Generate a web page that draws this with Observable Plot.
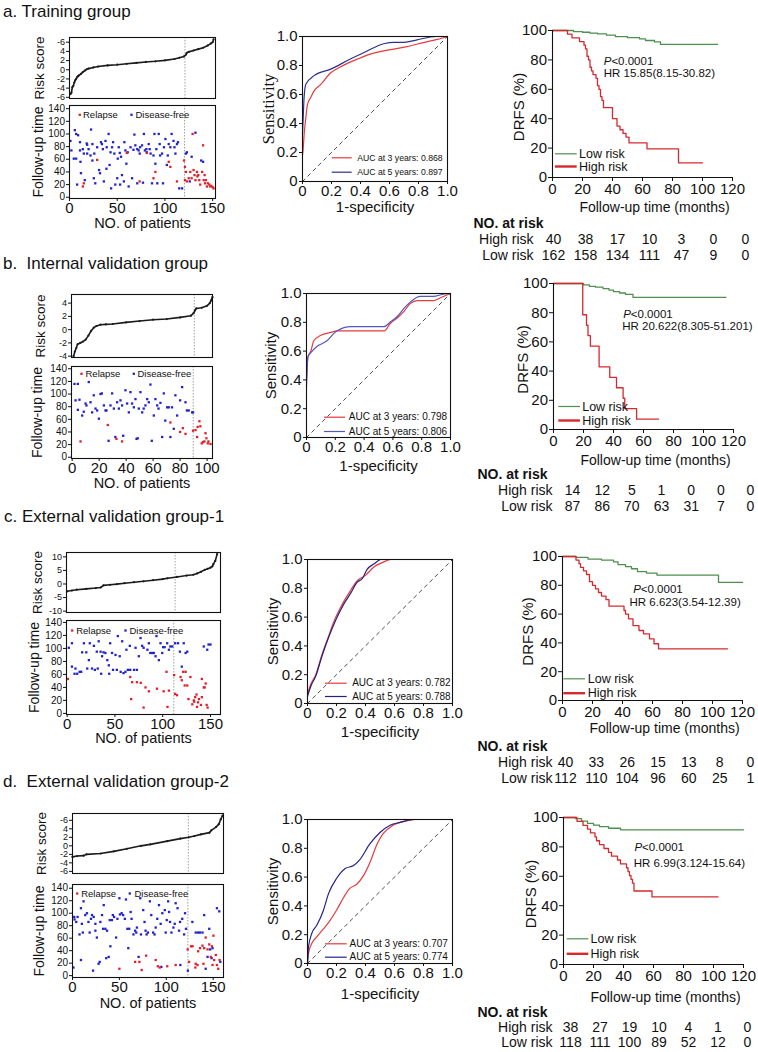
<!DOCTYPE html>
<html><head><meta charset="utf-8">
<script src="https://cdn.jsdelivr.net/npm/d3@7"></script>
<script src="https://cdn.jsdelivr.net/npm/@observablehq/plot@0.6"></script>
<style>
body{margin:0;background:#fff;}
#root{position:relative;width:758px;height:1052px;overflow:hidden;font-family:"Liberation Sans",Arial,Helvetica,sans-serif;color:#111;background:#fff;}
.title{position:absolute;font-size:17px;white-space:pre;line-height:1;}
</style></head><body><div id="root"></div>
<script>
// ---------------- DATA ----------------
const titles = ["a. Training group", "b.  Internal validation group", "c. External validation group-1", "d.  External validation group-2"];

// risk score curves (patient index, risk score)
const riskScoreA = [[1,-5.3],[2,-5.0],[3,-3.8],[4,-3.5],[5,-2.8],[6,-2.3],[7,-2.0],[8,-1.6],[9,-1.4],[10,-1.2],[12,-0.9],[14,-0.5],[16,-0.2],[18,0.1],[20,0.25],[25,0.5],[30,0.7],[40,0.95],[50,1.1],[60,1.3],[70,1.5],[80,1.7],[90,1.85],[100,2.05],[110,2.35],[115,2.6],[120,2.9],[122,3.3],[123,3.7],[125,3.9],[130,4.2],[135,4.5],[140,4.8],[145,5.3],[148,5.7],[150,6.0],[151,6.6]];
const riskScoreB = [[1,-4.0],[2,-3.3],[3,-2.8],[4,-2.2],[6,-2.0],[8,-1.8],[10,-1.5],[12,-0.9],[14,-0.2],[16,0.3],[18,0.55],[21,0.75],[25,0.8],[30,0.85],[40,1.1],[50,1.3],[60,1.5],[70,1.6],[80,1.85],[88,2.1],[90,2.5],[91,2.9],[92,3.2],[96,3.3],[100,3.6],[102,4.0],[103,4.4],[104,4.9]];
const riskScoreC = [[0,-2.7],[5,-2.4],[10,-2.1],[20,-1.8],[30,-1.5],[35,-1.3],[38,-0.5],[45,-0.3],[52,-0.05],[60,0.3],[70,0.67],[80,1.0],[90,1.4],[100,1.8],[105,2.1],[115,2.6],[125,3.1],[132,3.4],[136,3.9],[140,4.5],[144,5.2],[147,5.6],[150,6.0],[152,6.5],[153,7.3],[155,8.5],[157,11]];
const riskScoreD = [[0,-2.6],[5,-2.4],[12,-2.3],[15,-2.0],[30,-1.8],[44,-1.3],[58,-0.7],[73,0],[83,0.35],[101,1.1],[115,1.7],[124,2.0],[130,2.3],[137,2.7],[146,3.1],[148,3.65],[153,4.4],[156,5.1],[158,6.2],[160,7.1]];

const riskTicksA = [6,4,2,0,-2,-4,-6], riskTickLabelsA = ["-6","4","2","0","-2","-4","-6"];
const riskTicksB = [4,2,0,-2,-4], riskTickLabelsB = ["4","2","0","-2","-4"];
const riskTicksC = [10,5,0,-5,-10], riskTickLabelsC = ["10","5","0","-5","-10"];
const riskTicksD = [6,4,2,0,-2,-4,-6], riskTickLabelsD = ["-6","4","2","0","-2","-4","-6"];
const cutoffA = 121, cutoffB = 90.5, cutoffC = 113, cutoffD = 123.5;

const followTicks = [0,20,40,60,80,100,120,140];
const patientTicksA = [0,50,100,150], patientTicksB = [0,20,40,60,80,100], patientTicksC = [0,50,100,150], patientTicksD = [0,50,100,150];

// follow-up time scatter (patient index, months)
const relapseA = [[14,17],[15,22],[29,59],[60,70],[73.5,25],[81,70],[88,30],[90,40],[104,56],[105.7,48],[112.6,25],[120,58],[121,48],[121,27],[122,40],[123,25],[125,30],[126.6,40],[128,30],[129,100],[130,43],[131,35],[132,27],[133.6,40],[134,33],[135,35],[136,27],[137,20],[139,40],[140,82],[140.6,27],[141.6,35],[142,22],[143,27],[144,17],[145,22],[146.5,20],[147.5,17],[148.6,18],[150,16],[151,14]];
const diseaseFreeA = [[1,89],[2,74],[4.5,61],[5.6,106],[7,100],[7,61],[8,20],[9,98],[11,87],[11,74],[11.5,56],[12,38],[14,76],[15,69],[16,27],[18,85],[18.5,83],[18.5,69],[20,76],[22,66],[22.6,107],[24,84],[24,58],[25.5,30],[26,69],[27,22],[29,79],[31,43],[32,38],[33,87],[34,84],[35,76],[36,25],[37.7,89],[38.7,45],[39,79],[41,100],[42,51],[43,71],[43.6,14],[44.6,79],[45.7,87],[47,69],[48,20],[50,30],[50.6,61],[51.6,79],[52.7,70],[53,20],[54,64],[55,35],[57,25],[57.5,87],[58.6,74],[59.6,53],[61,71],[62,17],[64,79],[65.6,30],[67,75],[68,99],[69,82],[71,76],[71,22],[72.5,74],[73.6,69],[74,79],[76,82],[77,23],[78,100],[79,74],[80.6,76],[81,71],[83,84],[84,76],[85,69],[86.5,22],[88,66],[89,100],[90,53],[91,76],[92,22],[93.5,100],[94.5,84],[95,66],[97,69],[98,22],[99,79],[100.5,92],[102,51],[103,66],[104,84],[105.7,79],[107,100],[109,89],[110,79],[111,69],[112.6,84],[113.7,87],[115,14],[118,14],[122,69],[123,71],[126,25],[128,64],[132,102],[138,58],[140,56]];
const relapseB = [[6.2,25],[26.4,51],[32.8,29],[37,25],[72.8,55],[80,40],[82,46],[84,37],[89.6,42],[91.4,43],[92.6,32],[93,48],[94.3,57],[95,49],[96,22],[97,24],[98,25],[98.8,38],[99.5,30],[100.5,22],[101,25],[102.5,21]];
const diseaseFreeB = [[1.7,116],[2.5,90],[4.2,116],[4.2,75],[5.4,91],[7.4,66],[8.6,72],[9.9,85],[10.6,82],[12.3,119],[13.6,87],[14.8,71],[16,98],[17.3,77],[18.5,74],[19.8,61],[21,100],[22,101],[23.5,82],[24.7,74],[25.4,74],[27,26],[28.4,82],[29.6,101],[30.9,77],[32,32],[33.3,87],[34.6,77],[35.8,90],[37,82],[37.8,34],[39.5,106],[40.7,85],[42,71],[43.2,103],[44.4,85],[45.7,79],[46.9,92],[47.7,29],[48.6,30],[49.4,77],[50.6,103],[51.9,71],[53,77],[54.3,82],[55.6,92],[56.8,87],[58,115],[59,26],[60.5,66],[61.7,92],[63,82],[64,77],[65.4,86],[66.7,32],[67.9,101],[69,58],[70.4,79],[71.6,79],[72.8,32],[74,79],[75.3,45],[76.5,98],[77.8,66],[80,90],[81.5,111],[84,87],[85,74],[86.4,74],[88.9,71],[89.6,71]];
const relapseC = [[0.7,53],[66,56],[67,22],[68,48],[73,48],[77,47],[80,9],[82,40],[85.5,34],[94,38],[101,34],[104,64],[105,10],[106.5,35],[112,59],[113,30],[115,28],[118.7,56],[120,51],[121.5,64],[123,43],[124,64],[125.7,43],[127,22],[129,56],[131,14],[132.6,20],[133,18],[134,25],[135.4,29],[136,10],[137,17],[138,22],[140,13],[141,25],[141,53],[143,40],[144,40],[145,46],[146,13],[147,9]];
const diseaseFreeC = [[1.7,101],[5,72],[5,108],[7.7,61],[8.7,69],[10.5,61],[13,64],[14.7,64],[15.7,94],[17.5,108],[20,94],[21,69],[22.7,82],[23.7,108],[26,69],[28,104],[29,67],[31,95],[32,69],[33,111],[35,95],[35.6,61],[36.6,88],[38,94],[40,93],[42,82],[43.6,74],[44,61],[45,108],[47,93],[48,67],[50.6,90],[52,67],[53,119],[55,88],[56,64],[57.6,111],[59,62],[61,64],[62,98],[63.5,67],[65.6,104],[66,67],[70,67],[71.6,101],[73,67],[75,88],[76.8,116],[78.5,104],[80,101],[84,98],[85.5,108],[87,93],[89,93],[90.7,93],[92.5,88],[93.5,119],[96,82],[97.7,108],[99.5,93],[100.5,102],[102,102],[104.7,108],[106.5,98],[108,103],[110,103],[113,108],[116,108],[118,95],[120,72],[122,108],[124,93],[125.7,95],[143,103],[146.6,98],[148,106],[150,106]];
const relapseD = [[50,11],[66.8,22],[71.3,22],[73.8,9],[78.5,32],[88.7,25],[91,15],[93,13],[101,15],[110,17],[122.8,42],[124.3,22],[126.4,47],[128,47],[131,13],[131.4,19],[133.3,17],[134,39],[136,44],[138.6,48],[139.6,19],[140.4,44],[142,61],[144,42],[145.8,50],[147.5,30],[148.6,47],[149.3,17],[150.3,64],[151,25],[152.8,33],[154,17],[155.4,11],[156.8,25]];
const diseaseFreeD = [[1,13],[1.8,94],[2.2,90],[4,86],[5.4,94],[7.5,66],[9,108],[9,25],[10,83],[11,69],[11.8,119],[13.6,97],[15.4,100],[17,86],[18.3,69],[19.7,91],[20.8,97],[21.9,8],[22.6,94],[24.4,72],[24.4,83],[26,61],[27.8,19],[29,22],[29.7,86],[31.5,97],[32.6,75],[33.3,113],[35,75],[36,28],[36.8,72],[38.6,30],[39.7,89],[40.4,47],[42,89],[43,97],[44.4,94],[46.5,61],[47.9,91],[50,124],[50.6,98],[52.4,100],[54,97],[55.8,91],[57,122],[58.5,75],[59.5,44],[60.5,75],[62,102],[63,91],[65,66],[66.8,72],[68,69],[68.7,77],[70.5,30],[72.3,124],[73,66],[75.4,105],[76.8,86],[77.9,72],[79,66],[80.4,69],[82.5,119],[84,97],[86,69],[87.5,66],[88.7,77],[90.4,91],[92.2,113],[94,83],[94.7,14],[95.8,100],[98.4,105],[99.4,69],[100.5,89],[102,119],[103,102],[104,86],[105.5,69],[107.6,77],[109,83],[110,116],[112,108],[113.6,72],[114.7,86],[115,17],[117,91],[119,66],[120,100],[121,75],[123,8],[127.8,86],[131.4,69],[133.9,69],[136,69],[138.6,69],[140.4,97],[142,11],[144,30],[145.8,75],[146.8,42],[148.3,28],[149.3,44],[154,108],[156.5,103],[157.6,22]];

// ROC curves (1-specificity, sensitivity)
const rocTicks = [0,0.2,0.4,0.6,0.8,1.0];
const rocA3 = [[0,0.18],[0.005,0.23],[0.011,0.32],[0.023,0.44],[0.034,0.53],[0.057,0.58],[0.08,0.625],[0.126,0.67],[0.195,0.75],[0.26,0.79],[0.38,0.845],[0.49,0.885],[0.61,0.91],[0.72,0.93],[0.84,0.96],[0.93,0.98],[1,1]];
const rocA5 = [[0,0.33],[0.006,0.47],[0.011,0.58],[0.023,0.67],[0.08,0.73],[0.195,0.775],[0.33,0.845],[0.425,0.89],[0.56,0.95],[0.63,0.96],[0.7,0.96],[0.79,0.977],[0.92,1.0],[1,1]];
const rocB3 = [[0,0.40],[0.01,0.56],[0.03,0.60],[0.05,0.67],[0.1,0.71],[0.17,0.73],[0.21,0.74],[0.31,0.74],[0.54,0.74],[0.58,0.79],[0.63,0.83],[0.68,0.88],[0.72,0.93],[0.77,0.95],[0.88,0.95],[0.93,0.97],[1,1]];
const rocB5 = [[0,0.35],[0.01,0.56],[0.03,0.59],[0.07,0.63],[0.14,0.67],[0.21,0.74],[0.31,0.77],[0.42,0.77],[0.54,0.77],[0.58,0.80],[0.63,0.84],[0.68,0.90],[0.72,0.94],[0.79,0.98],[0.88,0.98],[0.95,0.995],[1,1]];
const rocC3 = [[0,0.065],[0.023,0.135],[0.057,0.2],[0.1,0.34],[0.15,0.48],[0.18,0.565],[0.24,0.69],[0.3,0.79],[0.34,0.85],[0.4,0.89],[0.46,0.95],[0.52,0.98],[0.575,1],[1,1]];
const rocC5 = [[0,0.05],[0.023,0.12],[0.057,0.19],[0.1,0.33],[0.15,0.47],[0.195,0.58],[0.25,0.69],[0.3,0.77],[0.34,0.84],[0.38,0.87],[0.41,0.93],[0.46,0.97],[0.506,1],[1,1]];
const rocD3 = [[0,0],[0.007,0.07],[0.03,0.14],[0.064,0.185],[0.11,0.24],[0.156,0.3],[0.2,0.37],[0.25,0.46],[0.29,0.52],[0.34,0.55],[0.386,0.61],[0.43,0.7],[0.48,0.83],[0.52,0.9],[0.59,0.96],[0.685,0.99],[0.75,1],[1,1]];
const rocD5 = [[0,0],[0.007,0.115],[0.03,0.21],[0.064,0.265],[0.11,0.37],[0.145,0.485],[0.2,0.59],[0.26,0.66],[0.317,0.68],[0.36,0.72],[0.43,0.83],[0.5,0.91],[0.57,0.96],[0.64,0.98],[0.73,1],[1,1]];
const aucA = ["0.868","0.897"], aucB = ["0.798","0.806"], aucC = ["0.782","0.788"], aucD = ["0.707","0.774"];

// Kaplan-Meier (months, DRFS %)
const kmTicksX = [0,20,40,60,80,100,120], kmTicksY = [0,20,40,60,80,100];
const kmLowA = [[0,100],[14,99.3],[20,98.8],[25,98.2],[30,97.7],[36,96.8],[42,95.9],[50,95.2],[58,94.3],[62,93.2],[68,92.2],[72,90.5],[110,90.5]];
const kmHighA = [[0,100],[10,97.5],[13,95],[18,92.5],[21,90],[22,87.5],[23,82.5],[24,80],[25,75],[26,72.5],[27,70],[29,67.5],[30,62.5],[31,60],[32,55],[33,52.5],[34,47.5],[40,40],[43,35],[45,32.5],[47,30],[49,27.5],[51,23.5],[63,19.5],[84,10],[100,10]];
const kmLowB = [[0,100],[20,99],[24,98],[28,97.5],[33,96.5],[37,95.5],[40,94.5],[44,93.5],[48,92.5],[53,90.5],[115,90.5]];
const kmHighB = [[0,100],[19.5,78.6],[22,71.4],[23,64.3],[24.6,57.1],[30.4,42.9],[37.5,35.7],[42,28.6],[46.4,21.4],[47.5,14.3],[55.4,7.1],[70,7.1]];
const kmLowC = [[0,100],[9,99.4],[17,98.2],[26,97.5],[34,96.3],[37,94.4],[42,93],[46,91.5],[50,89.5],[56,88.5],[63,87],[104,82],[120,82]];
const kmHighC = [[0,100],[9,97.5],[11,95],[12,92.5],[14,90],[16,87.5],[18,82.5],[20,80],[22,77.5],[24,75],[26,72.5],[29,70],[31,65.5],[40,65.5],[41,62.5],[42,60],[44,56.7],[47,52],[51,48.6],[54,46.3],[58,42.8],[61,39.4],[64,35.9],[110,35.9]];
const kmLowD = [[0,100],[8,99.3],[12,97.5],[16,96],[20,94.8],[24,93.8],[30,92.7],[38,91.6],[120,91.6]];
const kmHighD = [[0,100],[9,97.4],[13,94.7],[16,92.1],[18,89.5],[21,86.8],[22,84.2],[24,81.6],[27,78.9],[30,76.3],[32,73.7],[36,71.1],[38,68.4],[42,65.8],[43,63.2],[44,60.5],[45,57.9],[46,55.3],[47,50],[59,46],[103,46]];
const hrA = "HR 15.85(8.15-30.82)", hrB = "HR 20.622(8.305-51.201)", hrC = "HR 6.623(3.54-12.39)", hrD = "HR 6.99(3.124-15.64)";

// number at risk
const riskTimes = [0,20,40,60,80,100,120];
const atRiskHighA = [40,38,17,10,3,0,0],  atRiskLowA = [162,158,134,111,47,9,0];
const atRiskHighB = [14,12,5,1,0,0,0],    atRiskLowB = [87,86,70,63,31,7,0];
const atRiskHighC = [40,33,26,15,13,8,0], atRiskLowC = [112,110,104,96,60,25,1];
const atRiskHighD = [38,27,19,10,4,1,0],  atRiskLowD = [118,111,100,89,52,12,0];

// ---------------- STYLE / LAYOUT ----------------
const FONT = '"Liberation Sans", Arial, Helvetica, sans-serif';
const SERIF = '"Liberation Serif", "Times New Roman", serif';
const INK = "#111";
const C = {relapse:"#e3202a", free:"#2323cc", roc3:"#e63a3d", km_low:"#4f8f4f", km_high:"#d42a2e"};

const layouts = [
 { title:[3,17.5],
   risk:{x0:69,x1:215,y0:37,y1:98,xd:[0,153],yd:[-6.26,7.03]}, riskLab:39,
   scat:{x0:69,x1:215,y0:105,y1:198,xd:[0,153],yd:[-2,145]}, fuLab:38, patLabDy:25, cutScat:120.5,
   leg:{red:[79.3,114.3],redT:82.5,blue:[131,114.3],blueT:135},
   roc:{x0:302,x1:447,y0:36,y1:181,xd:[0,1],yd:[0,1]}, sensLab:268, sensSerif:true, specDy:26,
   rocLeg:{x:[331.7,351.7],y:[157.3,171.7],t:356.7,fs:8.7}, roc5:"#2b2f8f",
   km:{x0:552,x1:732,y0:30,y1:177,xd:[0,120],yd:[0,100]}, drfsLab:519, kmXDy:30.5,
   kmLeg:{x:[555,576.7],y:[153.3,166],t:578.5}, pT:[603.3,61], hrT:[603.3,72.5],
   tab:{hdr:473, labR:533, cols:[553,745], rows:[222.5,254.5]} },
 { title:[3,269.5],
   risk:{x0:71,x1:212,y0:294,y1:357,xd:[-0.5,104],yd:[-4.2,5.3]}, riskLab:40,
   scat:{x0:71,x1:212,y0:366,y1:458,xd:[-0.5,104],yd:[-2,143.6]}, fuLab:37.5, patLabDy:25, cutScat:89.7,
   leg:{red:[81,373.3],redT:85,blue:[133.3,373.3],blueT:137},
   roc:{x0:306,x1:450,y0:293,y1:437,xd:[0,1],yd:[0,1]}, sensLab:271, sensSerif:false, specDy:29,
   rocLeg:{x:[324,345],y:[416.7,431],t:348.3,fs:10}, roc5:"#5257c4",
   km:{x0:553,x1:733,y0:283,y1:429,xd:[0,120],yd:[0,100]}, drfsLab:522.5, kmXDy:31,
   kmLeg:{x:[558.3,580],y:[406,420],t:581.7}, pT:[622.7,313.7], hrT:[621.7,326],
   tab:{hdr:477, labR:552, cols:[572,750], rows:[474,506.5]} },
 { title:[4,522],
   risk:{x0:66,x1:220,y0:552,y1:612,xd:[-0.7,160.5],yd:[-10.5,11.6]}, riskLab:37,
   scat:{x0:66,x1:220,y0:620,y1:714,xd:[-0.7,160.5],yd:[-1.7,143]}, fuLab:34, patLabDy:24, cutScat:111.6,
   leg:{red:[71.7,630],redT:75.7,blue:[125,630],blueT:129},
   roc:{x0:307,x1:452,y0:559,y1:703,xd:[0,1],yd:[0,1]}, sensLab:272.5, sensSerif:false, specDy:29,
   rocLeg:{x:[325,346.7],y:[682.7,696],t:351.7,fs:10}, roc5:"#23237a",
   km:{x0:562,x1:742,y0:556,y1:700,xd:[0,120],yd:[0,100]}, drfsLab:527.5, kmXDy:28,
   kmLeg:{x:[563.3,585],y:[678.3,692.7],t:587.3}, pT:[632.7,589], hrT:[629,602],
   tab:{hdr:477, labR:552, cols:[565,750], rows:[745.5,778]} },
 { title:[3,787.5],
   risk:{x0:72,x1:223,y0:813,y1:873,xd:[0,161],yd:[-6.5,7.6]}, riskLab:41,
   scat:{x0:72,x1:223,y0:884,y1:977,xd:[0,161],yd:[-3,146]}, fuLab:39, patLabDy:26, cutScat:123,
   leg:{red:[76.7,893],redT:80.7,blue:[129.3,893],blueT:134},
   roc:{x0:307,x1:452,y0:819,y1:963,xd:[0,1],yd:[0,1]}, sensLab:272.5, sensSerif:false, specDy:31,
   rocLeg:{x:[325,346.7],y:[943.3,956.7],t:349,fs:10}, roc5:"#23238a",
   km:{x0:563,x1:743,y0:817,y1:964,xd:[0,120],yd:[0,100]}, drfsLab:531, kmXDy:33,
   kmLeg:{x:[566.7,588.3],y:[938.3,953.3],t:590}, pT:[634,847], hrT:[633.3,863],
   tab:{hdr:477, labR:552, cols:[570,747], rows:[1011.7,1042.5]} }
];

const panels = [
 {title:titles[0], risk:riskScoreA, rt:riskTicksA, rl:riskTickLabelsA, cut:cutoffA, rel:relapseA, free:diseaseFreeA, pt:patientTicksA, r3:rocA3, r5:rocA5, auc:aucA, low:kmLowA, high:kmHighA, hr:hrA, nh:atRiskHighA, nl:atRiskLowA},
 {title:titles[1], risk:riskScoreB, rt:riskTicksB, rl:riskTickLabelsB, cut:cutoffB, rel:relapseB, free:diseaseFreeB, pt:patientTicksB, r3:rocB3, r5:rocB5, auc:aucB, low:kmLowB, high:kmHighB, hr:hrB, nh:atRiskHighB, nl:atRiskLowB},
 {title:titles[2], risk:riskScoreC, rt:riskTicksC, rl:riskTickLabelsC, cut:cutoffC, rel:relapseC, free:diseaseFreeC, pt:patientTicksC, r3:rocC3, r5:rocC5, auc:aucC, low:kmLowC, high:kmHighC, hr:hrC, nh:atRiskHighC, nl:atRiskLowC},
 {title:titles[3], risk:riskScoreD, rt:riskTicksD, rl:riskTickLabelsD, cut:cutoffD, rel:relapseD, free:diseaseFreeD, pt:patientTicksD, r3:rocD3, r5:rocD5, auc:aucD, low:kmLowD, high:kmHighD, hr:hrD, nh:atRiskHighD, nl:atRiskLowD}
];

// ---------------- DRAWING ----------------
const root = document.getElementById("root");
const X = (fr, px) => fr.xd[0] + (px - fr.x0) / (fr.x1 - fr.x0) * (fr.xd[1] - fr.xd[0]);
const Y = (fr, py) => fr.yd[0] + (fr.y1 - py) / (fr.y1 - fr.y0) * (fr.yd[1] - fr.yd[0]);
const px = d => d[0], py = d => d[1];

function place(fr, o) {
  const ml = o.ml ?? 60, mr = o.mr ?? 30, mt = o.mt ?? 20, mb = o.mb ?? 50;
  const p = Plot.plot({
    width: fr.x1 - fr.x0 + ml + mr,
    height: fr.y1 - fr.y0 + mt + mb,
    marginLeft: ml, marginRight: mr, marginTop: mt, marginBottom: mb,
    x: Object.assign({domain: fr.xd}, o.x || {}),
    y: Object.assign({domain: fr.yd}, o.y || {}),
    style: {fontFamily: FONT},
    marks: o.marks
  });
  p.style.position = "absolute";
  p.style.left = (fr.x0 - ml) + "px";
  p.style.top = (fr.y0 - mt) + "px";
  p.style.background = "transparent";
  p.style.overflow = "visible";
  p.style.maxWidth = "none";
  p.style.color = INK;
  p.style.fontFamily = FONT;
  root.appendChild(p);
}

// rotated (vertical) axis title, centred on the frame's left edge
const yTitle = (text, dx, fs, extra = {}) =>
  Plot.text([text], Object.assign({frameAnchor:"left", rotate:-90, dx, fontSize:fs, textAnchor:"middle", lineAnchor:"middle", fill:INK}, extra));

function drawPanel(P, G) {
  // title
  const t = document.createElement("div");
  t.className = "title"; t.textContent = P.title;
  t.style.left = G.title[0] + "px"; t.style.top = (G.title[1] - 0.846 * 17) + "px";
  root.appendChild(t);

  // risk score
  const rm = new Map(P.rt.map((v, i) => [v, P.rl[i]]));
  place(G.risk, {x:{axis:null}, marks:[
    Plot.ruleX([P.cut], {stroke:"#888", strokeWidth:0.8, strokeDasharray:"1.5,1.5"}),
    Plot.line(P.risk, {x:px, y:py, stroke:"#1b1b1b", strokeWidth:1.6}),
    Plot.dot(P.risk, {x:px, y:py, r:1.1, fill:"#1b1b1b"}),
    Plot.frame({stroke:INK, strokeWidth:1.1}),
    Plot.axisY({ticks:P.rt, tickFormat:d => rm.get(d), tickSize:3, tickPadding:1.5, fontSize:9, label:null}),
    yTitle("Risk score", G.riskLab - G.risk.x0, 13.5)
  ]});

  // follow-up scatter
  const s = G.scat;
  place(s, {marks:[
    Plot.ruleX([G.cutScat], {stroke:"#888", strokeWidth:0.8, strokeDasharray:"1.5,1.5"}),
    Plot.dot(P.free, {x:px, y:py, r:1.3, symbol:"square", fill:C.free}),
    Plot.dot(P.rel, {x:px, y:py, r:1.3, symbol:"square", fill:C.relapse}),
    Plot.frame({stroke:INK, strokeWidth:1.1}),
    Plot.axisY({ticks:followTicks, tickSize:3, tickPadding:1.5, fontSize:10, label:null}),
    Plot.axisX({ticks:P.pt, tickSize:3, tickPadding:1, fontSize:15, label:null}),
    Plot.dot([{x:X(s,G.leg.red[0]), y:Y(s,G.leg.red[1]), c:C.relapse},{x:X(s,G.leg.blue[0]), y:Y(s,G.leg.blue[1]), c:C.free}],
      {x:"x", y:"y", fill:"c", r:1.3, symbol:"square"}),
    Plot.text([{x:X(s,G.leg.redT), y:Y(s,G.leg.red[1]), t:"Relapse"},{x:X(s,G.leg.blueT), y:Y(s,G.leg.blue[1]), t:"Disease-free"}],
      {x:"x", y:"y", text:"t", textAnchor:"start", lineAnchor:"middle", fontSize:9.5, fill:INK}),
    yTitle("Follow-up time", G.fuLab - s.x0, 14),
    Plot.text(["NO. of patients"], {frameAnchor:"bottom", dy:G.patLabDy, fontSize:14.5, textAnchor:"middle", lineAnchor:"middle", fill:INK})
  ]});

  // ROC
  const r = G.roc;
  const rf = d => d === 0 ? "0" : d.toFixed(1);
  const L = G.rocLeg;
  place(r, {marks:[
    Plot.line([[0,0],[1,1]], {x:px, y:py, stroke:"#222", strokeWidth:0.8, strokeDasharray:"3.5,4"}),
    Plot.line(P.r3, {x:px, y:py, stroke:C.roc3, strokeWidth:1.2, curve:"monotone-x"}),
    Plot.line(P.r5, {x:px, y:py, stroke:G.roc5, strokeWidth:1.2, curve:"monotone-x"}),
    Plot.frame({stroke:INK, strokeWidth:1.1}),
    Plot.axisX({ticks:rocTicks, tickFormat:rf, tickSize:3, tickPadding:1, fontSize:15, label:null}),
    Plot.axisY({ticks:rocTicks, tickFormat:rf, tickSize:3, tickPadding:2, fontSize:15, label:null}),
    Plot.ruleY([{y:Y(r,L.y[0]), c:C.roc3},{y:Y(r,L.y[1]), c:G.roc5}], {y:"y", x1:X(r,L.x[0]), x2:X(r,L.x[1]), stroke:"c", strokeWidth:1.2}),
    Plot.text([{y:Y(r,L.y[0]), t:"AUC at 3 years: " + P.auc[0]},{y:Y(r,L.y[1]), t:"AUC at 5 years: " + P.auc[1]}],
      {x:X(r,L.t), y:"y", text:"t", textAnchor:"start", lineAnchor:"middle", fontSize:L.fs, fill:INK}),
    yTitle("Sensitivity", G.sensLab - r.x0, G.sensSerif ? 16.5 : 15, {fontFamily:G.sensSerif ? SERIF : FONT}),
    Plot.text(["1-specificity"], {frameAnchor:"bottom", dy:G.specDy, fontSize:15, textAnchor:"middle", lineAnchor:"middle", fill:INK})
  ]});

  // Kaplan-Meier
  const k = G.km, KL = G.kmLeg;
  place(k, {marks:[
    Plot.line(P.low, {x:px, y:py, curve:"step-after", stroke:C.km_low, strokeWidth:1.3}),
    Plot.line(P.high, {x:px, y:py, curve:"step-after", stroke:C.km_high, strokeWidth:1.3}),
    Plot.ruleX([0], {stroke:INK, strokeWidth:1.1}),
    Plot.ruleY([0], {stroke:INK, strokeWidth:1.1}),
    Plot.axisY({ticks:kmTicksY, tickSize:4, tickPadding:1.5, fontSize:15, label:null}),
    Plot.axisX({ticks:kmTicksX, tickSize:4, tickPadding:1.5, fontSize:15, label:null}),
    Plot.ruleY([{y:Y(k,KL.y[0]), c:C.km_low, w:1.2},{y:Y(k,KL.y[1]), c:C.km_high, w:2.4}], {y:"y", x1:X(k,KL.x[0]), x2:X(k,KL.x[1]), stroke:"c", strokeWidth:"w"}),
    Plot.text([{y:Y(k,KL.y[0]), t:"Low risk"},{y:Y(k,KL.y[1]), t:"High risk"}],
      {x:X(k,KL.t), y:"y", text:"t", textAnchor:"start", lineAnchor:"middle", fontSize:12.5, fill:INK}),
    Plot.text(["P"], {x:X(k,G.pT[0]), y:Y(k,G.pT[1]), textAnchor:"start", lineAnchor:"middle", fontSize:11.5, fontStyle:"italic", fill:INK}),
    Plot.text(["<0.0001"], {x:X(k,G.pT[0] + 7.6), y:Y(k,G.pT[1]), textAnchor:"start", lineAnchor:"middle", fontSize:11.5, fill:INK}),
    Plot.text([P.hr], {x:X(k,G.hrT[0]), y:Y(k,G.hrT[1]), textAnchor:"start", lineAnchor:"middle", fontSize:11.5, fill:INK}),
    yTitle("DRFS (%)", G.drfsLab - k.x0, 15, {dy:3}),
    Plot.text(["Follow-up time (months)"], {frameAnchor:"bottom", dx:12, dy:G.kmXDy, fontSize:14, textAnchor:"middle", lineAnchor:"middle", fill:INK})
  ]});

  // number at risk table
  const T = G.tab;
  const tf = {x0:T.cols[0], x1:T.cols[1], y0:T.rows[0], y1:T.rows[1], xd:[0,120]};
  const cells = riskTimes.flatMap((tm, i) => [{t:tm, row:"High risk", n:P.nh[i]}, {t:tm, row:"Low risk", n:P.nl[i]}]);
  place(tf, {ml:110, mr:20, mt:12, mb:12,
    x:{axis:null},
    y:{type:"point", domain:["hdr","High risk","Low risk"], padding:0, axis:null},
    marks:[
      Plot.text(cells, {x:"t", y:"row", text:d => String(d.n), fontSize:14, lineAnchor:"middle", fill:INK}),
      Plot.text(["High risk","Low risk"], {y:d => d, text:d => d, frameAnchor:"left", dx:T.labR - T.cols[0], textAnchor:"end", fontSize:14, lineAnchor:"middle", fill:INK}),
      Plot.text(["hdr"], {y:d => d, text:() => "NO. at risk", frameAnchor:"left", dx:T.hdr - T.cols[0], textAnchor:"start", fontSize:14, fontWeight:"bold", lineAnchor:"middle", fill:INK})
    ]});
}

panels.forEach((P, i) => drawPanel(P, layouts[i]));
</script></body></html>
